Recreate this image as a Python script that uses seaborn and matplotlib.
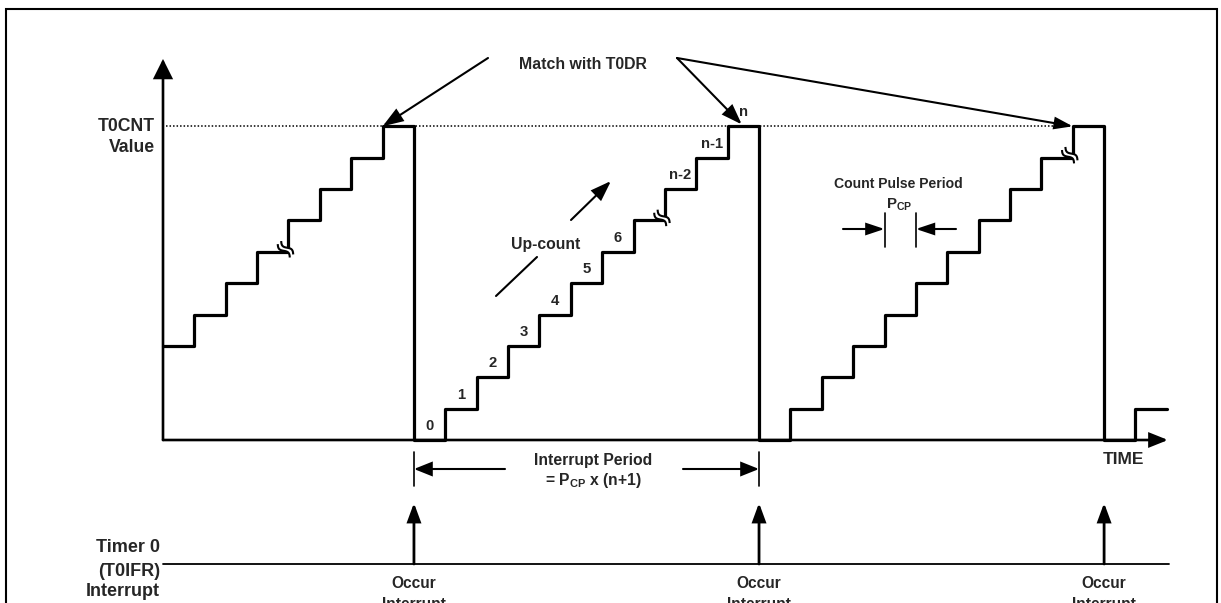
import numpy as np
import pandas as pd
import matplotlib
matplotlib.use("Agg")
import matplotlib.pyplot as plt
import seaborn as sns

# ---------------- data ----------------
# counter value held during each count-pulse period (P_CP) along the time axis
cycle1_levels = [3, 4, 5, 6, 7, 8, 9, 10]
cycle2_levels = [0, 1, 2, 3, 4, 5, 6, 7, 8, 9, 10]
cycle3_levels = [0, 1, 2, 3, 4, 5, 6, 7, 8, 9, 10]
cycle4_levels = [0, 1]
count_labels = ["0", "1", "2", "3", "4", "5", "6", "", "n-2", "n-1", "n"]
break_times = [4, 16, 29]          # risers drawn with a "break" symbol
match_level = 10                   # T0DR match value (top level)
pulse_period_slot = 23             # slot used to show P_CP

levels = cycle1_levels + cycle2_levels + cycle3_levels + cycle4_levels
t_edges = np.arange(len(levels) + 1)
lv = levels + [levels[-1]]
df = pd.DataFrame({"t": t_edges, "count": lv})

# interrupt instants = where counter drops from n to 0
drop_times = [int(t) for t in range(1, len(levels)) if levels[t] < levels[t - 1]]
cycle2_start = drop_times[0]

# ---------------- style ----------------
sns.set_theme(style="white")
plt.rcParams["font.family"] = ["Liberation Sans", "DejaVu Sans"]
plt.rcParams["font.weight"] = "bold"
plt.rcParams["mathtext.fontset"] = "custom"
plt.rcParams["mathtext.rm"] = "Liberation Sans:bold"
plt.rcParams["mathtext.it"] = "Liberation Sans:bold"
plt.rcParams["mathtext.bf"] = "Liberation Sans:bold"

W, H = 1221, 603
fig = plt.figure(figsize=(W / 100, H / 100), dpi=100)
ax = fig.add_axes([0, 0, 1, 1])
S = 31.37            # pixels per unit (one P_CP, one count)
X0, Y0 = 163, 440    # origin location in pixels


def X(px):
    return (px - X0) / S


def Y(py):
    return (Y0 - py) / S


P2PT = 0.72  # pixel -> point


def arrow(start, tip, lw, hl, hw, z=3):
    ax.annotate("", xy=tip, xytext=start,
                arrowprops=dict(arrowstyle=f"-|>,head_length={hl*P2PT:.2f},head_width={hw/2*P2PT:.2f}",
                                mutation_scale=1, lw=lw, color="black",
                                shrinkA=0, shrinkB=0, joinstyle="miter"),
                zorder=z)


# counter staircase
sns.lineplot(data=df, x="t", y="count", drawstyle="steps-post", color="black",
             lw=2.3, estimator=None, sort=False, ax=ax, legend=False, zorder=4)
ax.set_xlim(X(0), X(W))
ax.set_ylim(Y(H), Y(0))
ax.axis("off")

# border frame
ax.plot([X(6), X(6), X(1217), X(1217)], [Y(H + 20), Y(9), Y(9), Y(H + 20)],
        color="black", lw=1.5, solid_joinstyle="miter", clip_on=False)

# axes arrows
arrow((0, 0), (0, Y(59)), lw=1.9, hl=16, hw=16)
arrow((0, 0), (X(1168), 0), lw=1.9, hl=15, hw=12)

# dotted match line
ax.plot([X(166), X(1070)], [match_level, match_level], color="black",
        lw=1.1, linestyle=(0, (1, 1.3)), zorder=2)

# break symbols
for bt in break_times:
    lvl = levels[bt - 1]
    cx, cy = bt - 3 / S, lvl + 2.5 / S
    ang = np.deg2rad(-48)
    d = np.array([np.cos(ang), np.sin(ang)])
    nrm = np.array([-np.sin(ang), np.cos(ang)])
    u = np.linspace(-9, 9, 50)
    curves = []
    for off in (-2.3, 2.3):
        v = off + 2.2 * np.sin(np.pi * u / 9)
        pts = (np.outer(u, d) + np.outer(v, nrm)) / S
        curves.append(pts + np.array([cx, cy]))
    poly = np.vstack([curves[0], curves[1][::-1]])
    ax.fill(poly[:, 0], poly[:, 1], color="white", zorder=5, lw=0)
    for c in curves:
        ax.plot(c[:, 0], c[:, 1], color="black", lw=1.5, zorder=6,
                solid_capstyle="butt")

# count labels on second cycle
for k, lab in enumerate(count_labels):
    if lab:
        ax.text(cycle2_start + k + 0.5, cycle2_levels[k] + 14 / S, lab,
                ha="center", va="center", fontsize=10.7, fontweight="bold")

# y axis label
ax.text(X(155), match_level, "T0CNT", ha="right", va="center", fontsize=12.7, fontweight="bold")
ax.text(X(155), Y(148), "Value", ha="right", va="center", fontsize=12.7, fontweight="bold")

# Match with T0DR
ax.text(X(583), Y(65), "Match with T0DR", ha="center", va="center", fontsize=11.4, fontweight="bold")
rise_times = [t for t in range(1, len(levels)) if levels[t] == match_level and levels[t - 1] < match_level]
arrow((X(488), Y(58)), (rise_times[0], match_level), lw=1.5, hl=17, hw=12)
arrow((X(677), Y(58)), (rise_times[1] + 0.45, match_level + 0.06), lw=1.5, hl=17, hw=12)
arrow((X(677), Y(58)), (rise_times[2], match_level), lw=1.5, hl=15, hw=10)

# Up-count
ax.plot([X(496), X(537)], [Y(296), Y(257)], color="black", lw=1.5)
arrow((X(571), Y(220)), (X(611), Y(181)), lw=1.5, hl=17, hw=12)
ax.text(X(546), Y(245), "Up-count", ha="center", va="center", fontsize=11.3, fontweight="bold")

# Count pulse period
ax.text(X(898), Y(184), "Count Pulse Period", ha="center", va="center", fontsize=10.1, fontweight="bold")
ax.text(X(899), Y(205), "P$_{CP}$", ha="center", va="center", fontsize=10.8, fontweight="bold")
for tx in (pulse_period_slot, pulse_period_slot + 1):
    ax.plot([tx, tx], [Y(213), Y(247)], color="black", lw=1.2)
arrow((X(843), Y(229)), (pulse_period_slot, Y(229)), lw=1.5, hl=15, hw=10)
arrow((X(956), Y(229)), (pulse_period_slot + 1, Y(229)), lw=1.5, hl=15, hw=10)

# Interrupt period
p0, p1 = drop_times[0], drop_times[1]
for tx in (p0, p1):
    ax.plot([tx, tx], [Y(452), Y(486)], color="black", lw=1.2)
arrow((X(505), Y(469)), (p0, Y(469)), lw=1.5, hl=15, hw=12)
arrow((X(683), Y(469)), (p1, Y(469)), lw=1.5, hl=15, hw=12)
ax.text(X(593), Y(461), "Interrupt Period", ha="center", va="center", fontsize=11.3, fontweight="bold")
ax.text(X(593), Y(481), "= P$_{CP}$ x (n+1)", ha="center", va="center", fontsize=11.3, fontweight="bold")

# TIME
ax.text(X(1123), Y(460), "TIME", ha="center", va="center", fontsize=12.5, fontweight="bold")

# Interrupt line
ax.plot([0, X(1169)], [Y(564), Y(564)], color="black", lw=1.3)
for tx in drop_times:
    arrow((tx, Y(564)), (tx, Y(503)), lw=2.0, hl=15, hw=11)
    ax.text(tx, Y(584), "Occur", ha="center", va="center", fontsize=11.2, fontweight="bold")
    ax.text(tx, Y(605), "Interrupt", ha="center", va="center", fontsize=11.2, fontweight="bold")

for txt, py in (("Timer 0", 548), ("(T0IFR)", 571), ("Interrupt", 592)):
    ax.text(X(160), Y(py), txt, ha="right", va="center", fontsize=13, fontweight="bold")

fig.savefig("out.png", dpi=100, facecolor="white")
